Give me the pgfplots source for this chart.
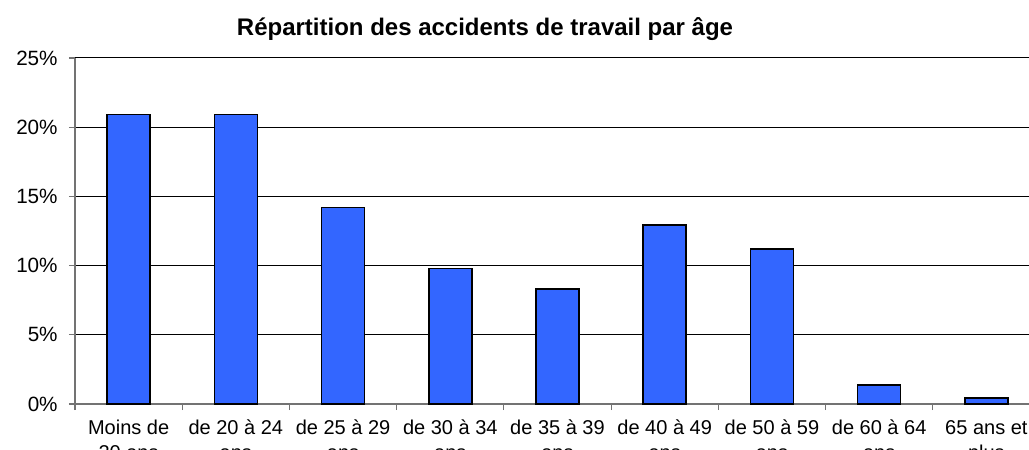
\documentclass[border=0pt]{standalone}
\usepackage{fontspec}
\setmainfont{Liberation Sans}
\usepackage{pgfplots}
\pgfplotsset{compat=1.18}
\definecolor{barblue}{RGB}{51,102,255}
\begin{document}
\begin{tikzpicture}
\path[use as bounding box, clip] (0,0) rectangle (771.75pt,337.5pt);
\begin{axis}[
  at={(56.25pt,34.5pt)}, anchor=south west,
  scale only axis, width=723.75pt, height=259.5pt,
  xmin=-0.5, xmax=8.5, ymin=0, ymax=25,
  ybar, bar width=32.25pt,
  axis x line=bottom, axis y line=left,
  axis line style={-, draw=black!55, line width=1pt},
  xtick={0,...,8},
  xticklabels={{Moins de\\20 ans},{de 20 à 24\\ans},{de 25 à 29\\ans},{de 30 à 34\\ans},{de 35 à 39\\ans},{de 40 à 49\\ans},{de 50 à 59\\ans},{de 60 à 64\\ans},{65 ans et\\plus}},
  xticklabel style={align=center, font=\fontsize{15}{18.75}\selectfont, yshift=-4pt},
  xtick style={draw=none},
  minor xtick={-0.5,0.5,...,8.5},
  minor x tick style={draw=black!55, line width=0.8pt},
  minor tick length=4.5pt,
  ytick={0,5,...,20},
  yticklabels={0\%,5\%,10\%,15\%,20\%},
  extra y ticks={25},
  extra y tick labels={25\%},
  extra y tick style={grid style={draw=black!55, line width=1.2pt}},
  yticklabel style={font=\fontsize{15.5}{18}\selectfont, xshift=-5pt},
  ytick style={draw=black!55, line width=0.8pt},
  major tick length=4.5pt,
  tick align=outside,
  ymajorgrids,
  major grid style={draw=black, line width=0.75pt},
  title={\bfseries Répartition des accidents de travail par âge},
  title style={at={(0.4249,1.06)}, anchor=center, font=\fontsize{18}{21}\selectfont},
  clip=false,
]
\addplot[fill=barblue, draw=black, line width=1.1pt] coordinates {
  (0,20.9) (1,20.9) (2,14.2) (3,9.8) (4,8.3) (5,12.95) (6,11.2) (7,1.37) (8,0.43)
};
\end{axis}
\end{tikzpicture}
\end{document}
